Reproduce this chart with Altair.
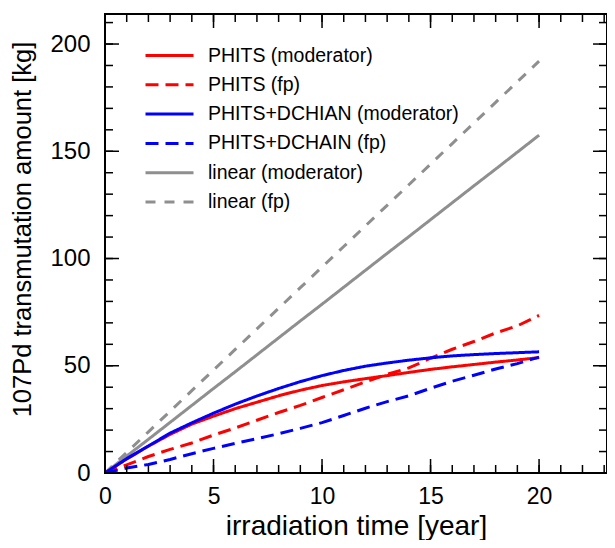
import altair as alt
import pandas as pd

# ---------------- data ----------------
years = [0, 1, 2, 3, 4, 5, 6, 7, 8, 9, 10, 11, 12, 13, 14, 15, 16, 17, 18, 19, 20]

phits_mod = [0, 6.5, 12.5, 18, 22.8, 26.5, 30, 33, 36, 38.6, 40.8, 42.5, 44,
             45.4, 46.9, 48.3, 49.5, 50.6, 51.7, 52.7, 53.8]
phits_fp = [0, 3.8, 7.7, 11, 14, 17.7, 21, 24.6, 28.2, 31.5, 35.2, 38.8, 42.5,
            46, 49, 53.5, 57.7, 61.3, 65.3, 68.6, 73.5]
dchain_mod = [0, 6.7, 12.6, 18.6, 23.4, 27.9, 32.1, 35.9, 39.4, 42.6, 45.4, 47.8,
              49.8, 51.3, 52.6, 53.7, 54.6, 55.2, 55.7, 56.1, 56.5]
dchain_fp = [0, 2.3, 4, 6.3, 9, 11.5, 13.8, 16, 18.3, 20.8, 23.5, 26.8, 30.2,
             33.3, 36, 39.5, 42.8, 45.6, 48.5, 51, 54]
linear_mod = [0, 7.9, 15.7, 23.6, 31.5, 39.4, 47.2, 55.1, 63, 70.9, 78.7, 86.6,
              94.5, 102.4, 110.2, 118.1, 126, 133.9, 141.7, 149.6, 157.5]
linear_fp = [0, 9.6, 19.2, 28.8, 38.4, 48, 57.6, 67.2, 76.8, 86.4, 96, 105.6,
             115.2, 124.8, 134.4, 144, 153.6, 163.2, 172.8, 182.4, 192]

series_names = ["PHITS (moderator)", "PHITS (fp)", "PHITS+DCHIAN (moderator)",
                "PHITS+DCHAIN (fp)", "linear (moderator)", "linear (fp)"]
series_values = [phits_mod, phits_fp, dchain_mod, dchain_fp, linear_mod, linear_fp]
series_colors = ["#ff0000", "#ff0000", "#0000ff", "#0000ff", "#8f8f8f", "#8f8f8f"]
series_dashes = [[1, 0], [13, 7], [1, 0], [13, 7], [1, 0], [10, 9]]
series_widths = [3, 3, 3, 3, 2, 2]

x_label_values = [0, 5, 10, 15, 20]
y_label_values = [0, 50, 100, 150, 200]
x_minor_ticks = [0, 1, 2, 3, 4, 5, 6, 7, 8, 9, 10, 11, 12, 13, 14, 15, 16, 17,
                 18, 19, 20, 21, 22, 23]
x_major_ticks = [0, 5, 10, 15, 20]
y_minor_ticks = [0, 10, 20, 30, 40, 50, 60, 70, 80, 90, 100, 110, 120, 130, 140,
                 150, 160, 170, 180, 190, 200, 210]
y_major_ticks = [0, 50, 100, 150, 200]

X_MAX = 23.13
Y_MAX = 214

# ---------------- build tables ----------------
rows = []
draw_order = [4, 5, 0, 1, 2, 3]
for i in draw_order:
    for t, v in zip(years, series_values[i]):
        rows.append({"t": t, "v": v, "series": series_names[i], "ord": draw_order.index(i)})
df = pd.DataFrame(rows)

W, H = 502, 459
FONT = "Liberation Sans"

xs = alt.Scale(domain=[0, X_MAX], nice=False, zero=False)
ys = alt.Scale(domain=[0, Y_MAX], nice=False, zero=False)

leg = alt.Legend(
    orient="none", legendX=53, legendY=30, title=None,
    symbolType="M-2.4,0H2.4", symbolSize=400,
    labelFontSize=19.5, labelFont=FONT, labelColor="black",
    labelOffset=27, rowPadding=8.3, padding=0, labelLimit=0,
)

lines = alt.Chart(df).mark_line(clip=True).encode(
    x=alt.X("t:Q", scale=xs, axis=alt.Axis(
        values=x_label_values, title="irradiation time [year]",
        labelFontSize=23, labelPadding=12.5, labelFlush=False,
        titleFontSize=28, titleX=251, titleY=61, titleBaseline="alphabetic",
        titleAlign="center")),
    y=alt.Y("v:Q", scale=ys, axis=alt.Axis(
        values=y_label_values, title="107Pd transmutation amount [kg]",
        labelFontSize=24, labelPadding=15,
        titleFontSize=25.5, titleX=-75, titleY=215, titleAngle=270,
        titleBaseline="alphabetic", titleAlign="center")),
    color=alt.Color("series:N", scale=alt.Scale(domain=series_names, range=series_colors), legend=leg),
    strokeDash=alt.StrokeDash("series:N", scale=alt.Scale(domain=series_names, range=series_dashes), legend=leg),
    strokeWidth=alt.StrokeWidth("series:N", scale=alt.Scale(domain=series_names, range=series_widths), legend=leg),
    order=alt.Order("ord:Q"),
)

MAJ, MIN = 14, 8
xmaj = pd.DataFrame({"t": x_major_ticks})
xmin = pd.DataFrame({"t": x_minor_ticks})
ymaj = pd.DataFrame({"v": y_major_ticks})
ymin = pd.DataFrame({"v": y_minor_ticks})

def xticks(d, L):
    base = alt.Chart(d).mark_rule(color="black", strokeWidth=1.5)
    bottom = base.encode(x=alt.X("t:Q", scale=xs), y=alt.value(H), y2=alt.value(H - L))
    top = base.encode(x=alt.X("t:Q", scale=xs), y=alt.value(0), y2=alt.value(L))
    return bottom + top

def yticks(d, L):
    base = alt.Chart(d).mark_rule(color="black", strokeWidth=1.5)
    left = base.encode(y=alt.Y("v:Q", scale=ys), x=alt.value(0), x2=alt.value(L))
    right = base.encode(y=alt.Y("v:Q", scale=ys), x=alt.value(W), x2=alt.value(W - L))
    return left + right

chart = alt.layer(
    lines,
    xticks(xmin, MIN), xticks(xmaj, MAJ),
    yticks(ymin, MIN), yticks(ymaj, MAJ),
).properties(
    width=W, height=H,
    background="white",
    autosize=alt.AutoSizeParams(type="none"),
    padding={"left": 97, "top": 6, "right": 0, "bottom": 67},
).configure_view(
    stroke="black", strokeWidth=2
).configure_axis(
    domain=False, ticks=False, grid=False,
    labelFont=FONT, titleFont=FONT, labelColor="black", titleColor="black",
    titleFontWeight="normal", labelOverlap=False,
)

chart.save("out.html", embed_options={"renderer": "svg", "actions": False})
